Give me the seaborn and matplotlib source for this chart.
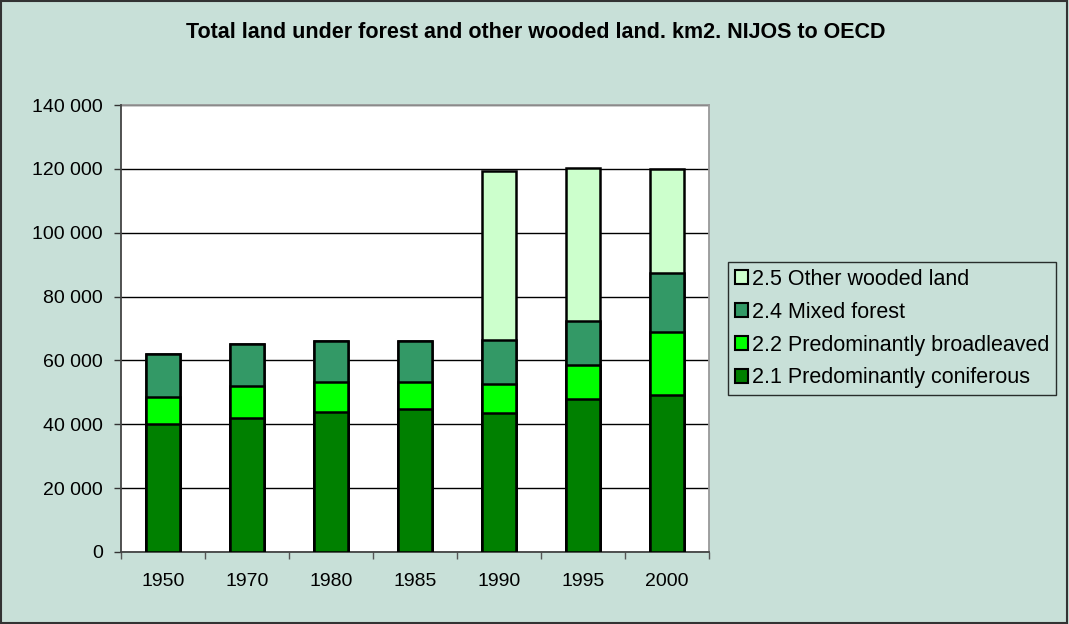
import matplotlib
matplotlib.use("Agg")
import matplotlib.pyplot as plt
import matplotlib.patches as mpatches
import seaborn as sns
import numpy as np
import pandas as pd
from matplotlib.ticker import FuncFormatter, FixedLocator

years = ["1950", "1970", "1980", "1985", "1990", "1995", "2000"]
coniferous = [40100, 42000, 44000, 44900, 43600, 47800, 49300]
broadleaved = [8400, 10100, 9400, 8400, 9000, 10900, 19600]
mixed = [13600, 13100, 12800, 12900, 13800, 13600, 18400]
other_wooded = [0, 0, 0, 0, 52900, 47900, 32700]

series_names = ["2.1 Predominantly coniferous", "2.2 Predominantly broadleaved",
                "2.4 Mixed forest", "2.5 Other wooded land"]
colors = ["#008000", "#00FF00", "#339966", "#CCFFCC"]
title = "Total land under forest and other wooded land. km2. NIJOS to OECD"

sns.set_style("white")
plt.rcParams["font.family"] = ["Liberation Sans", "DejaVu Sans"]
plt.rcParams["text.color"] = "black"
plt.rcParams["xtick.color"] = "black"
plt.rcParams["ytick.color"] = "black"

bg = "#C8E0D8"
fig = plt.figure(figsize=(10.69, 6.24), dpi=100, facecolor=bg)
ax = fig.add_axes([121 / 1069, 1 - 552 / 624, 588 / 1069, 447 / 624])
ax.set_facecolor("white")

layers = [coniferous, broadleaved, mixed, other_wooded]
cum = np.cumsum(np.array(layers, dtype=float), axis=0)

for i in range(len(layers) - 1, -1, -1):
    df = pd.DataFrame({"year": years, "value": cum[i]})
    sns.barplot(data=df, x="year", y="value", order=years, color=colors[i],
                width=0.4, edgecolor="black", linewidth=1.8, saturation=1,
                ax=ax, zorder=3)

ax.set_ylim(0, 140000)
ax.set_xlim(-0.5, len(years) - 0.5)
ax.yaxis.set_major_locator(FixedLocator(np.arange(0, 140001, 20000)))
ax.yaxis.set_major_formatter(FuncFormatter(lambda v, p: f"{int(v):,}".replace(",", " ")))
ax.grid(axis="y", color="black", linewidth=1.0, zorder=0)
ax.set_axisbelow(True)
ax.set_xlabel("")
ax.set_ylabel("")

ax.tick_params(axis="y", which="major", direction="out", length=5, width=1,
               color="#333333", labelcolor="black", labelsize=14, pad=8, left=True)
ax.tick_params(axis="x", which="major", length=0, labelsize=14, labelcolor="black", pad=15)
ax.set_xticks(np.arange(-0.5, len(years), 1.0), minor=True)
ax.tick_params(axis="x", which="minor", direction="out", length=5, width=1,
               color="#555555", bottom=True)

for s in ["left", "bottom"]:
    ax.spines[s].set_color("#444444")
    ax.spines[s].set_linewidth(1.3)
for s in ["top", "right"]:
    ax.spines[s].set_color("#999999")
    ax.spines[s].set_linewidth(1.3)
ax.spines["left"].set_zorder(5)

fig.text(536 / 1069, 1 - 33 / 624, title, ha="center", va="center",
         fontsize=15.5, fontweight="bold", color="black")

handles = [mpatches.Patch(facecolor=colors[i], edgecolor="black", linewidth=1.5,
                          label=series_names[i]) for i in range(3, -1, -1)]
leg = fig.legend(handles=handles, loc="upper left",
                 bbox_to_anchor=(728 / 1069, 1 - 262 / 624),
                 frameon=True, fancybox=False, fontsize=15.5,
                 handlelength=0.6, handleheight=0.6, handletextpad=0.2,
                 labelspacing=0.55, borderpad=0.32, borderaxespad=0)
leg.get_frame().set_edgecolor("black")
leg.get_frame().set_linewidth(1.0)
leg.get_frame().set_facecolor(bg)
for t in leg.get_texts():
    t.set_color("black")

fig.patches.append(mpatches.Rectangle((0.001, 0.002), 0.997, 0.996,
                                      transform=fig.transFigure, fill=False,
                                      edgecolor="#333333", linewidth=1.5))

fig.savefig("out.png", dpi=100, facecolor=bg)
